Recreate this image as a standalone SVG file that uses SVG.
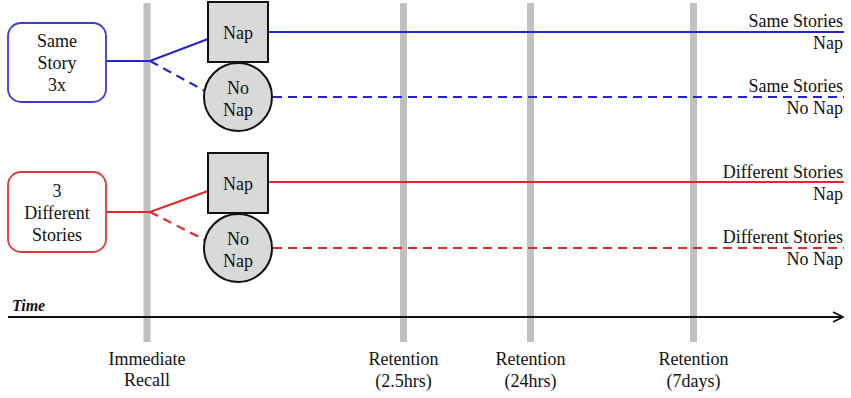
<svg xmlns="http://www.w3.org/2000/svg" width="851" height="398" viewBox="0 0 851 398" font-family="'Liberation Serif', serif">
<defs>
<style>
text{font-family:'Liberation Serif',serif;font-size:18px;fill:#111}
.c{text-anchor:middle}
.r{text-anchor:end}
.bar{fill:#c0c0c0}
.blue{stroke:#2525cc;stroke-width:2.2;fill:none}
.red{stroke:#dd2a2a;stroke-width:2.2;fill:none}
.dash{stroke-dasharray:9 6}
.nap{fill:#d9d9d9;stroke:#111;stroke-width:2}
</style>
<marker id="arr" markerWidth="12" markerHeight="12" refX="11" refY="6" orient="auto" markerUnits="userSpaceOnUse">
<path d="M1,1 L11,6 L1,11" fill="none" stroke="#111" stroke-width="1.8"/>
</marker>
</defs>
<rect width="851" height="398" fill="#fff"/>
<g id="timeline">
<rect class="bar" x="143.5" y="3" width="7" height="339"/>
<rect class="bar" x="400" y="3" width="7" height="339"/>
<rect class="bar" x="527" y="3" width="7" height="339"/>
<rect class="bar" x="690" y="3" width="7" height="339"/>
<line x1="8" y1="317" x2="843" y2="317" stroke="#111" stroke-width="2" marker-end="url(#arr)"/>
<text x="12" y="311" style="font-style:italic;font-weight:bold;font-size:16px">Time</text>
<text class="c" x="147" y="365">Immediate</text>
<text class="c" x="147" y="386">Recall</text>
<text class="c" x="403.5" y="365">Retention</text>
<text class="c" x="403.5" y="387">(2.5hrs)</text>
<text class="c" x="530.5" y="365">Retention</text>
<text class="c" x="530.5" y="387">(24hrs)</text>
<text class="c" x="693.5" y="365">Retention</text>
<text class="c" x="693.5" y="387">(7days)</text>
</g>
<g id="connectors">
<path class="blue" d="M106,61 L150,61 L208,39"/>
<path class="blue dash" d="M150,61 L205,91"/>
<line class="blue" x1="268" y1="32" x2="844" y2="32"/>
<line class="blue dash" x1="273" y1="97" x2="844" y2="97"/>
<path class="red" d="M106,212 L150,212 L208,191"/>
<path class="red dash" d="M150,212 L205,240"/>
<line class="red" x1="268" y1="182" x2="844" y2="182"/>
<line class="red dash" x1="273" y1="248" x2="844" y2="248"/>
</g>
<g id="same-story">
<rect x="8" y="23" width="98" height="79" rx="13" fill="#fff" stroke="#3b3bd6" stroke-width="1.8"/>
<text class="c" x="57" y="47">Same</text>
<text class="c" x="57" y="69">Story</text>
<text class="c" x="57" y="91">3x</text>
</g>
<g id="diff-stories">
<rect x="8" y="172" width="98" height="80" rx="13" fill="#fff" stroke="#dd3a3a" stroke-width="1.8"/>
<text class="c" x="57" y="197">3</text>
<text class="c" x="57" y="219">Different</text>
<text class="c" x="57" y="241">Stories</text>
</g>
<g id="nap1">
<rect class="nap" x="208" y="2" width="60" height="60"/>
<text class="c" x="238" y="39">Nap</text>
</g>
<g id="nonap1">
<circle class="nap" cx="238" cy="97" r="34"/>
<text class="c" x="238" y="94">No</text>
<text class="c" x="238" y="116">Nap</text>
</g>
<g id="nap2">
<rect class="nap" x="208" y="153" width="60" height="60"/>
<text class="c" x="238" y="190">Nap</text>
</g>
<g id="nonap2">
<circle class="nap" cx="238" cy="248" r="34"/>
<text class="c" x="238" y="245">No</text>
<text class="c" x="238" y="267">Nap</text>
</g>
<g id="labels">
<text class="r" x="843" y="27">Same Stories</text>
<text class="r" x="843" y="49">Nap</text>
<text class="r" x="843" y="92">Same Stories</text>
<text class="r" x="843" y="114">No Nap</text>
<text class="r" x="843" y="178">Different Stories</text>
<text class="r" x="843" y="200">Nap</text>
<text class="r" x="843" y="243">Different Stories</text>
<text class="r" x="843" y="265">No Nap</text>
</g>
</svg>
